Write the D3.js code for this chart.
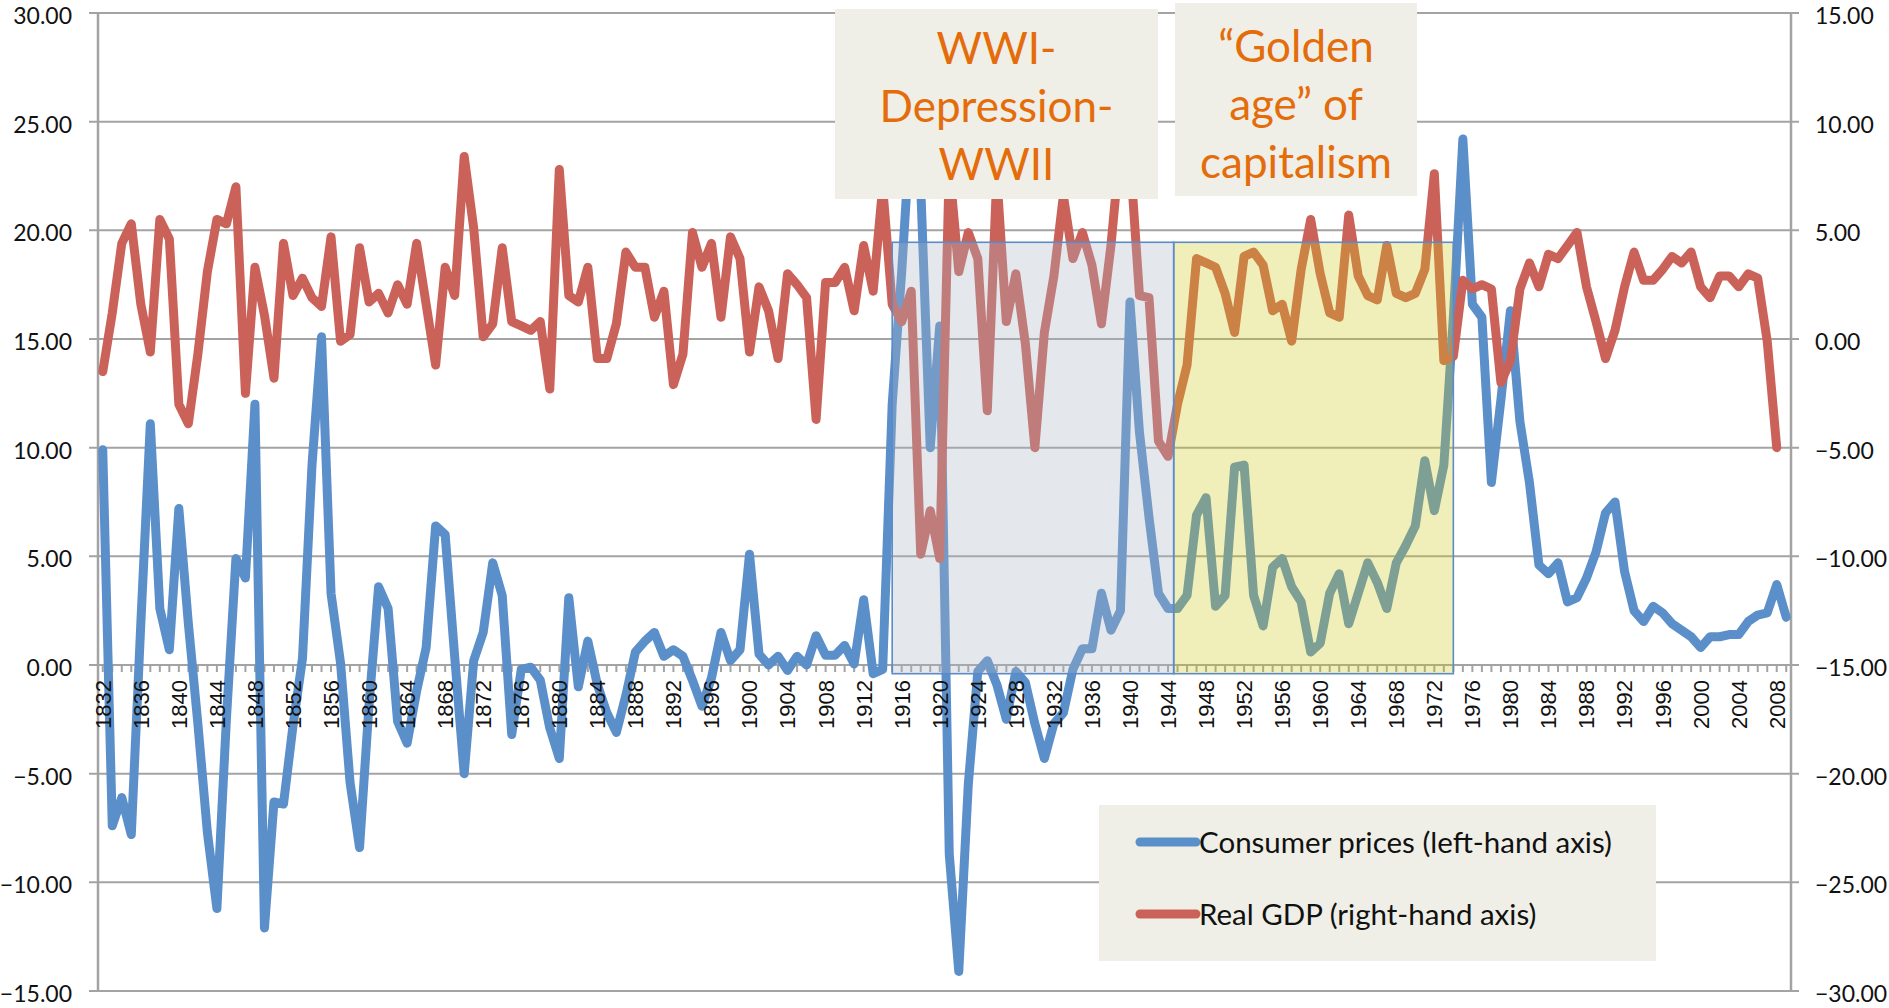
<!DOCTYPE html>
<html>
<head>
<meta charset="utf-8">
<script src="https://cdn.jsdelivr.net/npm/d3@7"></script>
<style>
  html, body { margin: 0; padding: 0; background: #fff; }
  svg { display: block; }
</style>
</head>
<body>
<svg id="chart" width="1889" height="1008"></svg>
<script>
// UK consumer prices and real GDP, annual % change
var years = d3.range(1832, 2010);

var consumerPrices = [
  9.9, -7.4, -6.1, -7.8, 1.9, 11.1, 2.6, 0.7, 7.2, 1.9,
  -2.7, -7.7, -11.2, -2.5, 4.9, 4.0, 12.0, -12.1, -6.3, -6.4,
  -2.8, 0.3, 9.2, 15.1, 3.3, 0.1, -5.4, -8.4, -1.8, 3.6,
  2.6, -2.6, -3.6, -1.2, 0.8, 6.4, 6.0, 0.4, -5.0, 0.2,
  1.5, 4.7, 3.2, -3.2, -0.2, -0.1, -0.7, -2.9, -4.3, 3.1,
  -1.0, 1.1, -0.9, -2.2, -3.1, -1.4, 0.6, 1.1, 1.5, 0.4,
  0.7, 0.4, -0.7, -1.9, -0.6, 1.5, 0.2, 0.7, 5.1, 0.5,
  0.0, 0.4, -0.25, 0.4, 0.0, 1.35, 0.45, 0.45, 0.9, 0.05,
  3.0, -0.4, -0.2, 12.0, 18.1, 25.2, 22.0, 10.0, 15.6, -8.7,
  -14.1, -5.5, -0.3, 0.2, -0.9, -2.5, -0.3, -0.8, -2.7, -4.3,
  -2.7, -2.2, -0.2, 0.75, 0.75, 3.3, 1.6, 2.5, 16.7, 10.7,
  6.8, 3.3, 2.6, 2.6, 3.2, 6.9, 7.7, 2.7, 3.2, 9.1,
  9.2, 3.2, 1.8, 4.5, 4.9, 3.6, 2.9, 0.6, 1.0, 3.3,
  4.2, 1.9, 3.3, 4.7, 3.8, 2.6, 4.7, 5.5, 6.4, 9.4,
  7.1, 9.2, 16.0, 24.2, 16.6, 16.0, 8.4, 12.2, 16.3, 11.2,
  8.4, 4.6, 4.2, 4.7, 2.9, 3.1, 4.0, 5.2, 7.0, 7.5,
  4.3, 2.5, 2.0, 2.7, 2.4, 1.9, 1.6, 1.3, 0.8, 1.3,
  1.3, 1.4, 1.4, 2.0, 2.3, 2.4, 3.7, 2.2
];

var realGdp = [
  -1.5, 1.2, 4.4, 5.3, 1.6, -0.6, 5.5, 4.6, -3.0, -3.9,
  -0.7, 3.1, 5.5, 5.3, 7.0, -2.5, 3.3, 1.1, -1.8, 4.4,
  2.0, 2.8, 1.9, 1.5, 4.7, -0.1, 0.2, 4.2, 1.7, 2.1,
  1.2, 2.5, 1.6, 4.4, 1.6, -1.2, 3.3, 2.0, 8.4, 5.1,
  0.1, 0.7, 4.2, 0.8, 0.6, 0.4, 0.8, -2.3, 7.8, 2.0,
  1.7, 3.3, -0.9, -0.9, 0.7, 4.0, 3.3, 3.3, 1.0, 2.2,
  -2.1, -0.7, 4.9, 3.3, 4.4, 1.0, 4.7, 3.7, -0.6, 2.4,
  1.3, -0.9, 3.0, 2.5, 1.9, -3.7, 2.6, 2.6, 3.3, 1.3,
  4.3, 2.2, 7.0, 1.6, 0.8, 2.2, -9.9, -7.9, -10.1, 8.0,
  3.1, 4.9, 3.7, -3.3, 7.5, 0.8, 3.0, -0.2, -5.0, 0.3,
  2.9, 6.6, 3.7, 4.9, 3.4, 0.7, 4.3, 9.0, 8.5, 2.0,
  1.9, -4.7, -5.4, -3.0, -1.2, 3.7, 3.5, 3.3, 2.1, 0.3,
  3.8, 4.0, 3.4, 1.3, 1.6, -0.1, 3.2, 5.5, 3.0, 1.2,
  1.0, 5.7, 2.9, 2.0, 1.8, 4.3, 2.1, 1.9, 2.1, 3.2,
  7.6, -1.0, -0.8, 2.7, 2.3, 2.5, 2.3, -2.0, -1.0, 2.3,
  3.5, 2.4, 3.9, 3.7, 4.3, 4.9, 2.4, 0.8, -0.9, 0.4,
  2.4, 4.0, 2.7, 2.7, 3.2, 3.8, 3.5, 4.0, 2.4, 1.9,
  2.9, 2.9, 2.4, 3.0, 2.8, -0.1, -5.0
];

var xTickYears = d3.range(1832, 2010, 4);
var leftTicks = [-15, -10, -5, 0, 5, 10, 15, 20, 25, 30];
var rightTicks = [-30, -25, -20, -15, -10, -5, 0, 5, 10, 15];

var periods = [
  { from: 1915, to: 1944.6, fill: "rgba(170,180,192,0.32)" },
  { from: 1944.6, to: 1974, fill: "rgba(208,202,22,0.30)" }
];

var notes = [
  { x: 835, y: 9, w: 323, h: 190, lines: ["WWI-", "Depression-", "WWII"], base: 64 },
  { x: 1175, y: 3, w: 242, h: 193, lines: ["\u201cGolden", "age\u201d of", "capitalism"], base: 62 }
];

var legendItems = [
  { label: "Consumer prices (left-hand axis)", color: "#5b8fca" },
  { label: "Real GDP (right-hand axis)", color: "#cb6259" }
];

var margin = { left: 98, right: 1791, top: 13, bottom: 991 };
var gridColor = "#a3a3a3";

var svg = d3.select("#chart");

var x = d3.scaleBand()
    .domain(years)
    .range([margin.left, margin.right]);

var step = x.step();
function xCenter(yr) { return x(yr) + x.bandwidth() / 2; }
function xAt(yr) { return margin.left + (yr - years[0] + 0.5) * step; }

var yLeft = d3.scaleLinear().domain([-15, 30]).range([margin.bottom, margin.top]);
var yRight = d3.scaleLinear().domain([-30, 15]).range([margin.bottom, margin.top]);

// gridlines + left/right ticks
var grid = svg.append("g").attr("class", "grid");
grid.selectAll("line")
    .data(leftTicks)
    .enter()
    .append("line")
    .attr("x1", margin.left - 9)
    .attr("x2", margin.right + 8)
    .attr("y1", d => yLeft(d))
    .attr("y2", d => yLeft(d))
    .attr("stroke", gridColor)
    .attr("stroke-width", 2);

// axis lines
[margin.left, margin.right].forEach(function(xx) {
    svg.append("line")
        .attr("x1", xx).attr("x2", xx)
        .attr("y1", margin.top).attr("y2", margin.bottom)
        .attr("stroke", gridColor)
        .attr("stroke-width", 2.5);
});

// left axis labels
svg.append("g")
    .selectAll("text")
    .data(leftTicks)
    .enter()
    .append("text")
    .attr("x", 72)
    .attr("y", d => yLeft(d))
    .attr("dy", "0.48em")
    .attr("text-anchor", "end")
    .attr("font-family", "Lato, 'Open Sans', sans-serif")
    .attr("font-size", 23)
    .attr("fill", "#111")
    .text(d => d3.format(".2f")(d));

// right axis labels
svg.append("g")
    .selectAll("text")
    .data(rightTicks)
    .enter()
    .append("text")
    .attr("x", 1815)
    .attr("y", d => yRight(d))
    .attr("dy", "0.48em")
    .attr("text-anchor", "start")
    .attr("font-family", "Lato, 'Open Sans', sans-serif")
    .attr("font-size", 23)
    .attr("fill", "#111")
    .text(d => d3.format(".2f")(d));

// category axis ticks at zero
var y0 = yLeft(0);
var xAxisG = svg.append("g").attr("class", "xaxis");
xAxisG.selectAll("line.tick")
    .data(years)
    .enter()
    .append("line")
    .attr("class", "tick")
    .attr("x1", d => xCenter(d))
    .attr("x2", d => xCenter(d))
    .attr("y1", y0)
    .attr("y2", y0 + 7)
    .attr("stroke", gridColor)
    .attr("stroke-width", 2);

// series
var cpiLine = d3.line()
    .x((d, i) => xCenter(years[i]))
    .y(d => yLeft(d));

var gdpLine = d3.line()
    .x((d, i) => xCenter(years[i]))
    .y(d => yRight(d));

svg.append("path")
    .attr("d", cpiLine(consumerPrices))
    .attr("fill", "none")
    .attr("stroke", legendItems[0].color)
    .attr("stroke-width", 9)
    .attr("stroke-linejoin", "round")
    .attr("stroke-linecap", "round");

svg.append("path")
    .attr("d", gdpLine(realGdp))
    .attr("fill", "none")
    .attr("stroke", legendItems[1].color)
    .attr("stroke-width", 9)
    .attr("stroke-linejoin", "round")
    .attr("stroke-linecap", "round");

// year labels sit on top of the lines
svg.append("g")
    .selectAll("text")
    .data(xTickYears)
    .enter()
    .append("text")
    .attr("transform", d => `translate(${xCenter(d)},${y0 + 15}) rotate(-90)`)
    .attr("dy", "0.36em")
    .attr("text-anchor", "end")
    .attr("font-family", "'Liberation Sans', Arial, sans-serif")
    .attr("font-size", 22)
    .attr("fill", "#111")
    .text(d => d);

// shaded periods
svg.append("g")
    .selectAll("rect")
    .data(periods)
    .enter()
    .append("rect")
    .attr("x", d => xAt(d.from))
    .attr("width", d => xAt(d.to) - xAt(d.from))
    .attr("y", yLeft(19.45))
    .attr("height", yLeft(-0.4) - yLeft(19.45))
    .attr("fill", d => d.fill)
    .attr("stroke", "#5b8bc8")
    .attr("stroke-width", 1.6);

// annotation boxes
var noteG = svg.append("g")
    .selectAll("g")
    .data(notes)
    .enter()
    .append("g");

noteG.append("rect")
    .attr("x", d => d.x)
    .attr("y", d => d.y)
    .attr("width", d => d.w)
    .attr("height", d => d.h)
    .attr("fill", "#efefe7");

noteG.each(function(d) {
    var g = d3.select(this);
    d.lines.forEach(function(line, i) {
        g.append("text")
            .attr("x", d.x + d.w / 2)
            .attr("y", d.base + i * 58)
            .attr("text-anchor", "middle")
            .attr("font-family", "Lato, 'Open Sans', sans-serif")
            .attr("font-size", 44)
            .attr("fill", "#e46c0a")
            .text(line);
    });
});

// legend
var legend = svg.append("g");
legend.append("rect")
    .attr("x", 1099)
    .attr("y", 805)
    .attr("width", 557)
    .attr("height", 156)
    .attr("fill", "#efefe7");

var legendRows = legend.selectAll("g.row")
    .data(legendItems)
    .enter()
    .append("g")
    .attr("class", "row")
    .attr("transform", (d, i) => `translate(1140,${842 + i * 72})`);

legendRows.append("line")
    .attr("x1", 0)
    .attr("x2", 56)
    .attr("stroke", d => d.color)
    .attr("stroke-width", 9)
    .attr("stroke-linecap", "round");

legendRows.append("text")
    .attr("x", 59)
    .attr("dy", "0.36em")
    .attr("font-family", "Lato, 'Open Sans', sans-serif")
    .attr("font-size", 29.5)
    .attr("fill", "#111")
    .text(d => d.label);
</script>
</body>
</html>
